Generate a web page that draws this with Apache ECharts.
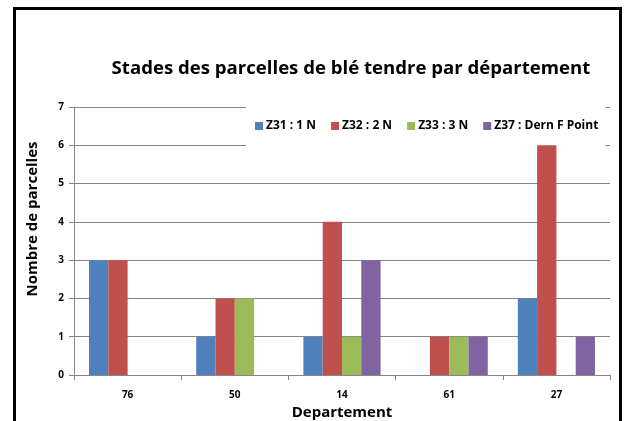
<!DOCTYPE html>
<html>
<head>
    <meta charset="UTF-8">
    <script src="https://cdn.jsdelivr.net/npm/echarts@6/dist/echarts.min.js"></script>
    <style>
        body { margin: 0; background: #fff; }
        #frame { position: absolute; left: 13px; top: 7px; width: 609px; height: 500px;
                 border: 3px solid #000; box-sizing: border-box; }
        #main { position: absolute; left: 0; top: 0; width: 625px; height: 421px; }
    </style>
</head>
<body>
<div id="frame"></div>
<div id="main"></div>
<script type="text/javascript">
    var departements = ['76', '50', '14', '61', '27'];
    var z31 = [3, 1, 1, 0, 2];
    var z32 = [3, 2, 4, 1, 6];
    var z33 = [0, 2, 1, 1, 0];
    var z37 = [0, 0, 3, 1, 1];
    var yTicks = [0, 1, 2, 3, 4, 5, 6, 7];

    var font = 'Open Sans';
    var myChart = echarts.init(document.getElementById('main'));
    var option = {
        animation: false,
        color: ['#4F81BD', '#C0504D', '#9BBB59', '#8064A2'],
        title: {
            text: 'Stades des parcelles de blé tendre par département',
            left: 346,
            textAlign: 'center',
            top: 54,
            textStyle: { fontFamily: font, fontSize: 18.6, fontWeight: 'bold', color: '#000' }
        },
        legend: {
            left: 246,
            top: 100,
            z: 1,
            backgroundColor: '#fff',
            padding: [20, 7, 20, 9],
            itemWidth: 8,
            itemHeight: 8,
            itemGap: 15,
            icon: 'rect',
            textStyle: { fontFamily: font, fontSize: 12, fontWeight: 'bold', color: '#000', padding: [0, 0, 0, -2] }
        },
        grid: { left: 74, right: 15, top: 107, bottom: 46, outerBoundsMode: 'none' },
        xAxis: {
            type: 'category',
            data: departements,
            name: 'Departement',
            nameLocation: 'middle',
            nameGap: 29,
            nameTextStyle: { fontFamily: font, fontSize: 15, fontWeight: 'bold', color: '#000' },
            axisLine: { lineStyle: { color: '#868686' } },
            axisTick: { show: true, alignWithLabel: false, length: 5, lineStyle: { color: '#868686' } },
            axisLabel: { fontFamily: font, fontSize: 10, fontWeight: 'bold', color: '#000', margin: 15 }
        },
        yAxis: {
            type: 'value',
            min: yTicks[0],
            max: yTicks[yTicks.length - 1],
            interval: 1,
            name: 'Nombre de parcelles',
            nameLocation: 'middle',
            nameGap: 34,
            nameTextStyle: { fontFamily: font, fontSize: 15, fontWeight: 'bold', color: '#000', padding: [0, 0, 0, 44] },
            axisLine: { show: true, lineStyle: { color: '#868686' } },
            axisTick: { show: true, length: 5, lineStyle: { color: '#868686' } },
            axisLabel: { fontFamily: font, fontSize: 10, fontWeight: 'bold', color: '#000', margin: 10 },
            splitLine: { lineStyle: { color: '#868686' } }
        },
        series: [
            { name: 'Z31 : 1 N', type: 'bar', data: z31, barGap: '0%', barCategoryGap: '28%' },
            { name: 'Z32 : 2 N', type: 'bar', data: z32, barGap: '0%', barCategoryGap: '28%' },
            { name: 'Z33 : 3 N', type: 'bar', data: z33, barGap: '0%', barCategoryGap: '28%' },
            { name: 'Z37 : Dern F Point', type: 'bar', data: z37, barGap: '0%', barCategoryGap: '28%' }
        ]
    };
    myChart.setOption(option);
</script>
</body>
</html>
